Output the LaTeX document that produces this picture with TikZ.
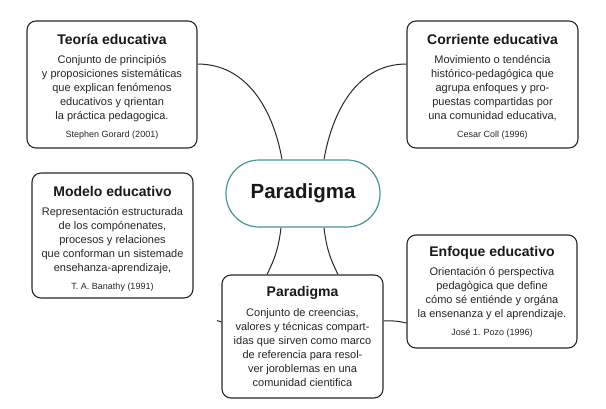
\documentclass[tikz,border=0pt]{standalone}
\usepackage{fontspec}
\setmainfont{Liberation Sans}
\usepackage{tikz}
\usetikzlibrary{arrows,backgrounds}
\definecolor{boxgray}{RGB}{40,40,40}
\definecolor{paraTeal}{RGB}{70,150,148}

\begin{document}
\begin{tikzpicture}[x=1pt,y=1pt,
    card/.style={draw=boxgray, line width=1.1pt, rounded corners=9pt, fill=white, inner sep=0pt},
    ttl/.style={font=\fontsize{14}{16}\selectfont\bfseries, text=black!90, inner sep=0pt},
    txt/.style={font=\fontsize{11}{14}\selectfont, align=center, text=black!85, inner sep=0pt},
    cite/.style={font=\fontsize{9}{11}\selectfont, text=black!85, inner sep=0pt},
    link/.style={draw=boxgray, line width=1pt}]
      \useasboundingbox (0,0) rectangle (606,-408);

      \node[name=para, draw=paraTeal, line width=1.2pt, rounded corners=33pt, minimum width=154pt, minimum height=67pt, font=\fontsize{20.5}{24}\selectfont\bfseries, text=black!90]
        at (303,-193.5) {Paradigma};

      \node[card, name=teoria, minimum width=170pt, minimum height=127pt] at (112,-84.5) {};
      \node[card, name=corriente, minimum width=171pt, minimum height=127pt] at (492.5,-84.5) {};
      \node[card, name=modelo, minimum width=161pt, minimum height=125pt] at (112.5,-235.5) {};
      \node[card, name=enfoque, minimum width=170pt, minimum height=113pt] at (492,-291.5) {};
      \node[card, name=parbox, minimum width=161pt, minimum height=123pt] at (302.5,-336.5) {};

      \coordinate (stubEnd) at (217,-320.5);
      \begin{scope}[on background layer]
        \draw[link] ([yshift=20.5pt]teoria.east) to[out=0,in=100] ([xshift=-21pt]para.north);
        \draw[link] ([yshift=20.5pt]corriente.west) to[out=180,in=80] ([xshift=21pt]para.north);
        \draw[link] ([xshift=-22pt]para.south) to[bend left=10] ([xshift=-35.5pt]parbox.north);
        \draw[link] ([xshift=21pt]para.south) to[bend right=10] ([xshift=35.5pt]parbox.north);
        \draw[link] ([yshift=14.5pt]parbox.west) -- (stubEnd);
        \draw[link] ([yshift=15.5pt]parbox.east) to[bend left=8] ([yshift=-31.5pt]enfoque.west);
      \end{scope}

      \node[ttl, name=teoriaTitle] at ([yshift=-19pt]teoria.north) {Teoría educativa};
      \node[txt, name=teoriaText] at ([yshift=-4pt]teoria.center) {Conjunto de principiós\\y proposiciones sistemáticas\\que explican fenómenos\\educativos y qrientan\\la práctica pedagogica.};
      \node[cite, name=teoriaCite] at ([yshift=13pt]teoria.south) {Stephen Gorard (2001)};

      \node[ttl, name=corrienteTitle] at ([yshift=-19pt]corriente.north) {Corriente educativa};
      \node[txt, name=corrienteText] at ([yshift=-4pt]corriente.center) {Movimiento o tendéncia\\histórico-pedagógica que\\agrupa enfoques y pro-\\puestas compartidas por\\una comunidad educativa,};
      \node[cite, name=corrienteCite] at ([yshift=13pt]corriente.south) {Cesar Coll (1996)};

      \node[ttl, name=modeloTitle] at ([yshift=-19pt]modelo.north) {Modelo educativo};
      \node[txt, name=modeloText] at ([yshift=-5pt]modelo.center) {Representación estructurada\\de los compónenates,\\procesos y relaciones\\que conforman un sistemade\\ensehanza-aprendizaje,};
      \node[cite, name=modeloCite] at ([yshift=11pt]modelo.south) {T. A. Banathy (1991)};

      \node[ttl, name=enfoqueTitle] at ([yshift=-18pt]enfoque.north) {Enfoque educativo};
      \node[txt, name=enfoqueText] at ([yshift=-2.5pt]enfoque.center) {Orientación ó perspectiva\\pedagògica que define\\cómo sé entiénde y orgána\\la ensenanza y el aprendizaje.};
      \node[cite, name=enfoqueCite] at ([yshift=15pt]enfoque.south) {José 1. Pozo (1996)};

      \node[ttl, name=parboxTitle] at ([yshift=-18pt]parbox.north) {Paradigma};
      \node[txt, name=parboxText] at ([yshift=-11.5pt]parbox.center) {Conjunto de creencias,\\valores y técnicas compart-\\idas que sirven como marco\\de referencia para resol-\\ver joroblemas en una\\comunidad cientifica};
    \end{tikzpicture}
\end{document}
